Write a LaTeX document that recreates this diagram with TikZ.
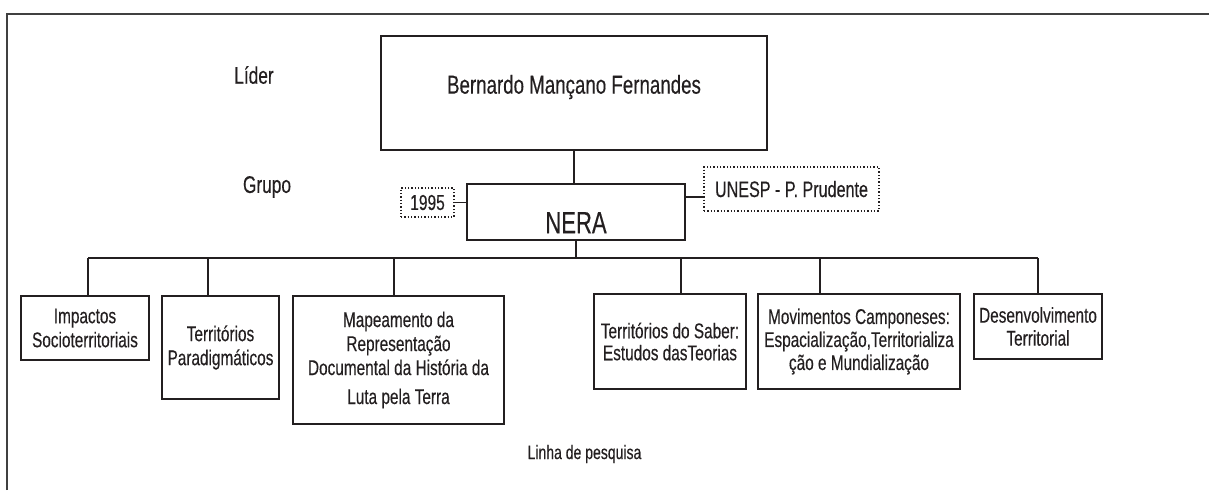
\documentclass[tikz,border=0pt]{standalone}
\usepackage{fontspec}
\setmainfont{Liberation Sans}[FakeStretch=0.72,FakeBold=0.3]
\begin{document}
\begin{tikzpicture}[x=0.75pt,y=-0.75pt,line join=miter,
  box/.style={draw=ink,line width=1.1pt,inner sep=0pt,align=center,text=ink,font=\fontsize{16}{18}\selectfont},
  tag/.style={draw=ink,line width=0.9pt,dash pattern=on 1.1pt off 1.4pt,inner sep=0pt,text=ink,font=\fontsize{16.2}{18}\selectfont},
  link/.style={draw=ink,line width=0.9pt},
  side/.style={text=ink,font=\fontsize{18}{21}\selectfont}]
\definecolor{ink}{HTML}{231F20}
\useasboundingbox (0,0) rectangle (1209,490);
\draw[black!75,line width=1.5pt] (7,490) -- (7,14) -- (1209,14);
% levels
\node[side] (lider) at (254,75) {Líder};
\node[side] (grupo) at (267,187) {Grupo};
\node[text=ink,font=\fontsize{14.6}{17}\selectfont] (linha) at (584.5,454) {Linha de pesquisa};
% leader and group
\node[box,minimum width=289.5pt,minimum height=85.5pt,
  label={[text=ink,font=\fontsize{19.5}{23}\selectfont,yshift=4.5pt]center:Bernardo Mançano Fernandes}] (leader) at (574,93) {};
\node[box,minimum width=163.5pt,minimum height=42pt,
  label={[text=ink,font=\fontsize{23}{27}\selectfont,yshift=-8pt]center:NERA}] (nera) at (576,212) {};
\node[tag,minimum width=39.75pt,minimum height=21.75pt] (yr) at (427.5,202.5) {1995};
\node[tag,minimum width=131.25pt,minimum height=33pt,font=\fontsize{16.8}{19}\selectfont] (unesp) at (791.5,189) {UNESP - P. Prudente};
% research lines
\node[box,minimum width=96pt,minimum height=48pt] (imp) at (85,328) {Impactos\\Socioterritoriais};
\node[box,minimum width=87.75pt,minimum height=77.25pt] (par) at (220.5,347.5) {Territórios\\Paradigmáticos};
\node[box,minimum width=158.25pt,minimum height=96pt] (map) at (398.5,360) {Mapeamento da\\Representação\\Documental da História da\\[3.75pt]Luta pela Terra};
\node[box,minimum width=114pt,minimum height=71.25pt,font=\fontsize{16}{16.5}\selectfont] (sab) at (670,341.5) {Territórios do Saber:\\Estudos dasTeorias};
\node[box,minimum width=151.5pt,minimum height=71.25pt,font=\fontsize{16}{17.25}\selectfont] (mov) at (859,341.5) {Movimentos Camponeses:\\Espacialização,Territorializa\\ção e Mundialização};
\node[box,minimum width=96pt,minimum height=48.75pt,font=\fontsize{16}{17.25}\selectfont] (des) at (1038,326.5) {Desenvolvimento\\Territorial};
% connectors
\coordinate (bus) at (576,258);
\draw[link] (leader.south) -- (leader.south |- nera.north);
\draw[link] (yr.east) -- (yr.east -| nera.west);
\draw[link] ([yshift=-6pt]unesp.west) coordinate (uw) -- (uw -| nera.east);
\draw[link] (nera.south) -- (nera.south |- bus);
\foreach \b/\dx in {imp/3,par/-12.5,map/-4.5,sab/11,mov/-39,des/0}{
  \path ([xshift=\dx*0.75pt]\b.north) coordinate (d\b);
  \draw[link] (d\b) -- (d\b |- bus);
}
\draw[link] (dimp |- bus) -- (ddes |- bus);
\end{tikzpicture}
\end{document}
